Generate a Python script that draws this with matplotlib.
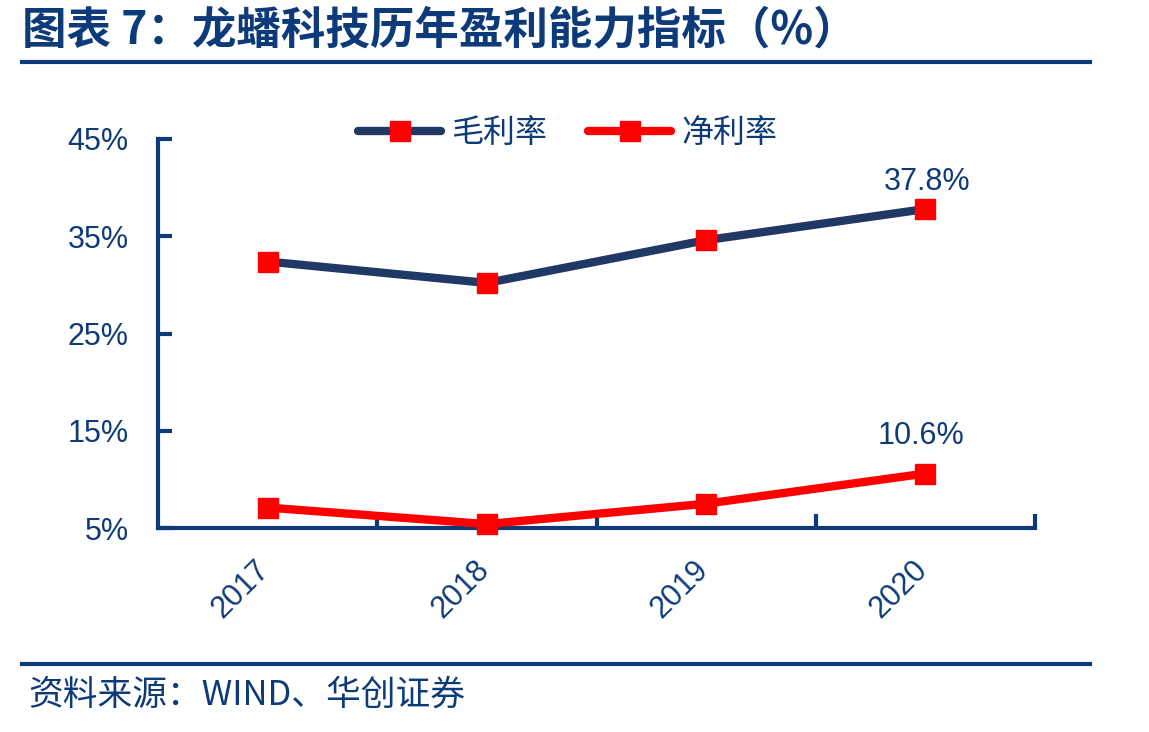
import matplotlib
matplotlib.use("Agg")
import matplotlib.pyplot as plt
from matplotlib.lines import Line2D
from matplotlib.transforms import ScaledTranslation

plt.rcParams['font.family'] = ['Liberation Sans', 'Noto Sans CJK SC', 'DejaVu Sans']

years = ['2017', '2018', '2019', '2020']
gross_margin = [32.4, 30.2, 34.6, 37.8]
net_margin = [7.1, 5.4, 7.5, 10.6]
yticks = [5, 15, 25, 35, 45]
series_names = ['毛利率', '净利率']
title = '图表 7：龙蟠科技历年盈利能力指标（%）'
source = '资料来源：WIND、华创证券'

NAVY = '#0D3B7A'
LINE_NAVY = '#1F3864'
RED = '#FF0000'

fig = plt.figure(figsize=(11.49, 7.32), dpi=100)
ax = fig.add_axes([158/1149, 1-528/732, (1035-158)/1149, (528-139)/732])

x = list(range(len(years)))
ax.plot(x, gross_margin, color=LINE_NAVY, lw=6, marker='s', ms=15,
        mfc=RED, mec=RED, clip_on=False, zorder=3, label=series_names[0],
        solid_capstyle='round')
ax.plot(x, net_margin, color=RED, lw=6, marker='s', ms=15,
        mfc=RED, mec=RED, clip_on=False, zorder=3, label=series_names[1],
        solid_capstyle='round')

ax.set_xlim(-0.5, len(years) - 0.5)
ax.set_ylim(yticks[0], yticks[-1])
ax.set_yticks(yticks)
ax.set_yticklabels([f'{v}%' for v in yticks], fontsize=22, color=NAVY)
ax.tick_params(axis='y', direction='in', length=10, width=3, color=NAVY, pad=21)

ax.set_xticks([i + 0.5 for i in range(len(years))])
ax.set_xticklabels([])
ax.set_xticks(x, minor=True)
ax.set_xticklabels(years, minor=True, fontsize=22, color=NAVY, rotation=45,
                   ha='right', va='top', rotation_mode='anchor')
ax.tick_params(axis='x', which='major', direction='in', length=10, width=3, color=NAVY)
ax.tick_params(axis='x', which='minor', length=0, pad=30)
shift = ScaledTranslation(-0.13, 0.15, fig.dpi_scale_trans)
for lbl in ax.get_xticklabels(minor=True):
    lbl.set_transform(lbl.get_transform() + shift)

for s in ['top', 'right']:
    ax.spines[s].set_visible(False)
for s in ['left', 'bottom']:
    ax.spines[s].set_color(NAVY)
    ax.spines[s].set_linewidth(3)

ax.annotate(f'{gross_margin[-1]:.1f}%', (x[-1], gross_margin[-1]), xytext=(1, 19.5),
            textcoords='offset points', ha='center', va='center', fontsize=22, color=NAVY)
ax.annotate(f'{net_margin[-1]:.1f}%', (x[-1], net_margin[-1]), xytext=(-3, 27),
            textcoords='offset points', ha='center', va='center', fontsize=22, color=NAVY)

leg = ax.legend(loc='center', bbox_to_anchor=(0.467, 1.015), ncol=2, frameon=False,
                prop={'family': ['Noto Sans CJK SC'], 'size': 23}, handlelength=2.6,
                columnspacing=1.3, handletextpad=0.3)
for t in leg.get_texts():
    t.set_color(NAVY)

fig.text(22/1149, 1-30/732, title, fontsize=32, fontweight='bold', color=NAVY,
         ha='left', va='center', family=['Noto Sans CJK SC', 'DejaVu Sans'])
fig.add_artist(Line2D([22/1149, 1090/1149], [1-62/732, 1-62/732], color=NAVY, lw=3))
fig.add_artist(Line2D([22/1149, 1090/1149], [1-664/732, 1-664/732], color=NAVY, lw=3))
fig.text(28/1149, 1-695/732, source, fontsize=25, style='italic', color=NAVY,
         ha='left', va='center', family=['Noto Sans CJK SC', 'DejaVu Sans'])

fig.savefig('out.png', dpi=100)
